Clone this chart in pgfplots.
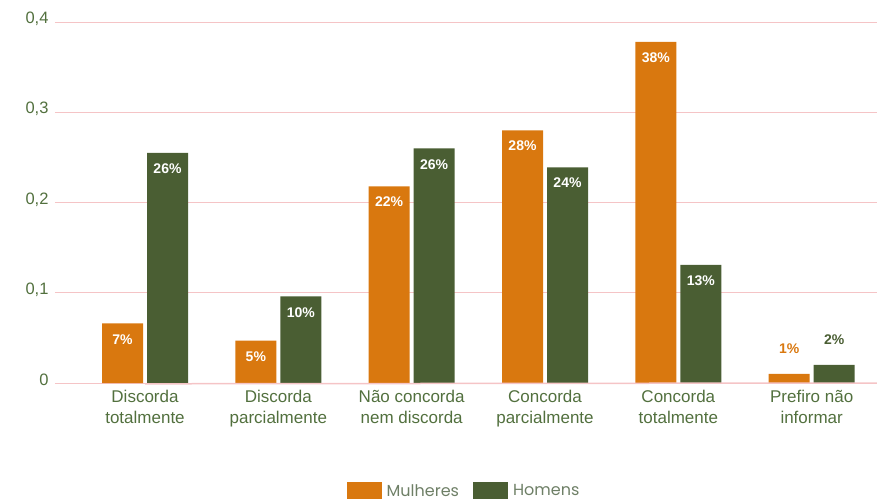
\documentclass[border=0pt]{standalone}
\usepackage{pgfplots}
\pgfplotsset{compat=1.18}
\usepackage{fontspec}
\setmainfont{Liberation Sans}
\newfontfamily\legfont{Poppins}
\definecolor{laranja}{HTML}{D9780F}
\definecolor{verde}{HTML}{4A5E33}
\definecolor{rotulo}{HTML}{52703E}
\definecolor{grade}{HTML}{F5C4C6}
\definecolor{legtxt}{HTML}{6E7F66}
\begin{document}
\begin{tikzpicture}
\useasboundingbox (-55bp,-117bp) rectangle (822bp,383bp);
\begin{axis}[
  at={(0,0)}, anchor=south west,
  scale only axis, width=822bp, height=361bp,
  xmin=-0.675, xmax=5.49, ymin=0, ymax=0.4,
  ybar, bar width=41bp,
  axis line style={draw=none}, major tick length=0pt,
  ymajorgrids, grid style={grade, line width=0.8bp},
  ytick={0,0.1,0.2,0.3,0.4},
  xtick={0,...,5},
  xticklabels={Discorda\\totalmente, Discorda\\parcialmente, Não concorda\\nem discorda,
    Concorda\\parcialmente, Concorda\\totalmente, Prefiro não\\informar},
  xticklabel style={align=center, font=\fontsize{17bp}{20.5bp}\selectfont, text=rotulo, yshift=-4bp},
  yticklabel style={font=\fontsize{16.5bp}{16.5bp}\selectfont, text=rotulo, yshift=3bp, xshift=-3bp},
  /pgf/number format/use comma, /pgf/number format/fixed,
  /pgf/number format/precision=1, /pgf/number format/assume math mode=true,
  clip=false,
  point meta=explicit symbolic,
  nodes near coords,
  visualization depends on={rawy \as \rawy},
  nodes near coords style={font=\bfseries\fontsize{14bp}{14bp}\selectfont, text=white,
    anchor=center, inner sep=0pt, yshift={ifthenelse(\rawy<0.03,24.9,-15.9)}},
  legend columns=2,
  legend style={at={(0.4976,-0.299)}, anchor=center, draw=none, fill=none,
    font=\legfont\fontsize{16bp}{16bp}\selectfont, text=legtxt,
    /tikz/every even column/.append style={column sep=12bp}},
  legend image code/.code={\fill[#1] (0bp,-8.5bp) rectangle (35bp,8.5bp); \path (38bp,0bp);},
]
\addplot[fill=laranja, draw=none, bar shift=-22.5bp] coordinates {
  (0,0.066) [7\%]
  (1,0.047) [5\%]
  (2,0.218) [22\%]
  (3,0.280) [28\%]
  (4,0.378) [38\%]
  (5,0.010) [{\textcolor{laranja}{1\%}}]
};
\addplot[fill=verde, draw=none, bar shift=22.5bp] coordinates {
  (0,0.255) [26\%]
  (1,0.096) [10\%]
  (2,0.260) [26\%]
  (3,0.239) [24\%]
  (4,0.131) [13\%]
  (5,0.020) [{\textcolor{verde}{2\%}}]
};
\legend{Mulheres, Homens}
\draw[grade, line width=1.5bp] (rel axis cs:0,0) ++(0,-0.8bp) -- (rel axis cs:1,0) ++(0,-0.8bp);
\end{axis}
\end{tikzpicture}
\end{document}
